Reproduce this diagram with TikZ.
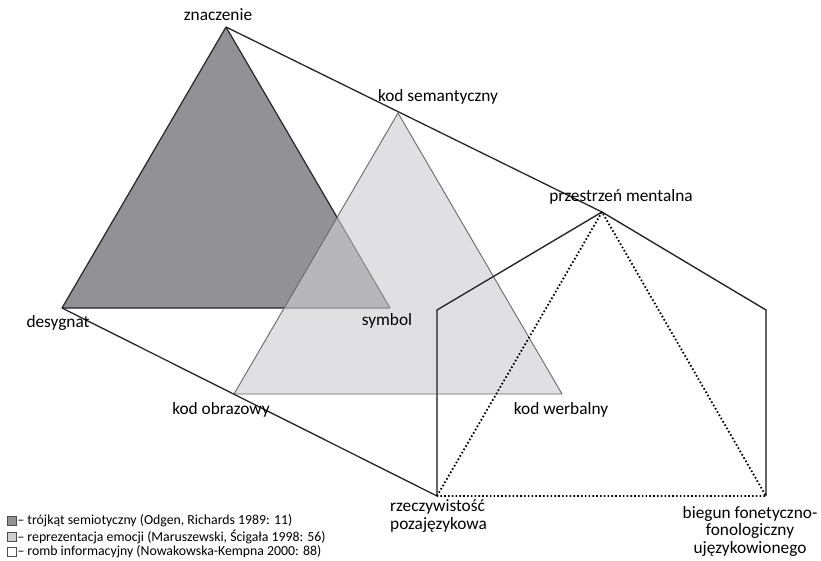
\documentclass[tikz,border=0pt]{standalone}
\usepackage{fontspec}
\setmainfont{Carlito}
\usetikzlibrary{positioning}
\definecolor{Cd}{RGB}{145,145,150}
\definecolor{Cl}{RGB}{205,205,210}
\definecolor{Ce}{RGB}{105,105,105}
\definecolor{Cs}{RGB}{200,200,200}

\begin{document}
\begin{tikzpicture}[x=1pt,y=-1pt,
    lbl/.style={font=\fontsize{17.3}{17.5}\selectfont,inner sep=0pt},
    leg/.style={font=\fontsize{13.8}{14}\selectfont,inner sep=0pt,anchor=west},
    legbox/.style={draw=black!70,line width=0.6pt,minimum size=9pt,inner sep=0pt}]
    \useasboundingbox (0,0) rectangle (821,561);
    % vertices
    \coordinate (zn) at (226,27);
    \coordinate (de) at (62,308);
    \coordinate (sy) at (390,308);
    \coordinate (ks) at (398,113);
    \coordinate (ko) at (234,394);
    \coordinate (kw) at (562,394);
    \coordinate (pm) at (602,212);
    \coordinate (pl) at (437,310);
    \coordinate (pr) at (766,310);
    \coordinate (rz) at (437,496);
    \coordinate (bf) at (766,496);
    % semiotic triangle
    \fill[Cd] (zn) -- (de) -- (sy) -- cycle;
    \draw[line width=1.2pt,black!85,line join=bevel] (zn) -- (de) -- (sy) -- cycle;
    % emotion triangle
    \draw[fill=Cl,fill opacity=0.62,draw=Ce,line width=0.9pt] (ks) -- (ko) -- (kw) -- cycle;
    % information rhombus
    \draw[Cs,line width=1.4pt,yshift=-1.8pt] (rz) -- (pl) -- (pm) -- (pr) -- (bf);
    \draw[line width=1.3pt,black!85] (rz) -- (pl) -- (pm) -- (pr) -- (bf);
    \draw[line width=1.3pt,black!85] (zn) -- (pm);
    \draw[line width=1.3pt,black!85] (de) -- (rz);
    \draw[line width=1.8pt,dash pattern=on 1.6pt off 2.2pt] (rz) -- (pm) -- (bf) -- (rz);
    % labels
    \node[lbl] (lzn) at (218,15) {znaczenie};
    \node[lbl] (lks) at (438,97) {kod semantyczny};
    \node[lbl] (lpm) at (621,197) {przestrzeń mentalna};
    \node[lbl] (lde) at (58,323) {desygnat};
    \node[lbl] (lsy) at (387,321) {symbol};
    \node[lbl] (lko) at (221,410) {kod obrazowy};
    \node[lbl] (lkw) at (561,410) {kod werbalny};
    \node[lbl,align=left,anchor=west] (lrz) at (390,516) {rzeczywistość\\pozajęzykowa};
    \node[lbl,align=center] (lbf) at (750,531) {biegun fonetyczno-\\fonologiczny\\ujęzykowionego};
    % legend
    \node[legbox,fill=Cd] (s1) at (12,521) {};
    \node[legbox,fill=Cl] (s2) at (12,537) {};
    \node[legbox,fill=white] (s3) at (12,552) {};
    \node[leg,right=0.5pt of s1] (t1) {– trójkąt semiotyczny (Odgen, Richards 1989: 11)};
    \node[leg,right=0.5pt of s2] (t2) {– reprezentacja emocji (Maruszewski, Ścigała 1998: 56)};
    \node[leg,right=0.5pt of s3] (t3) {– romb informacyjny (Nowakowska-Kempna 2000: 88)};
\end{tikzpicture}
\end{document}
